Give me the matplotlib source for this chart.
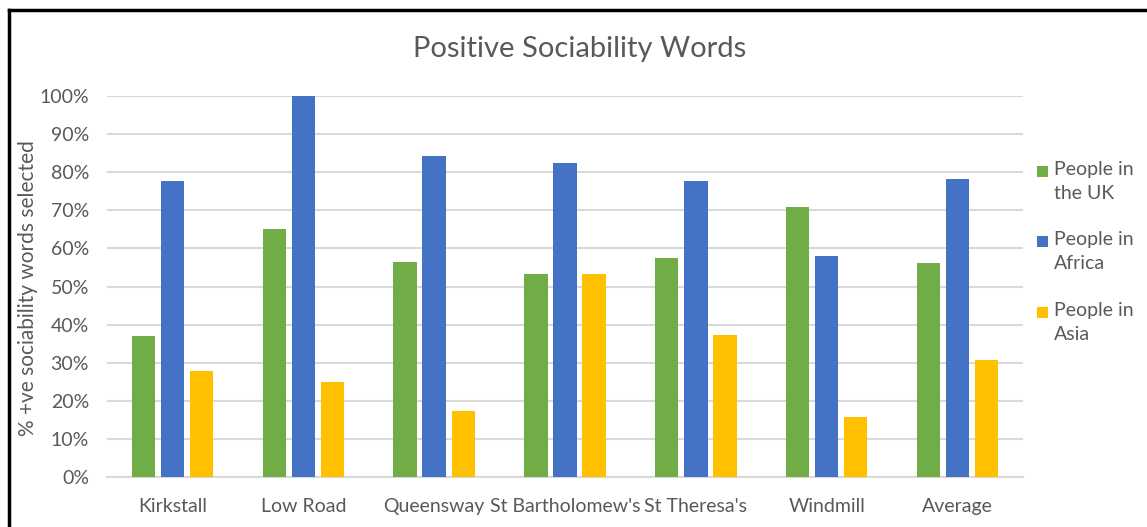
import numpy as np
import matplotlib.pyplot as plt
from matplotlib.lines import Line2D
from matplotlib.patches import Rectangle

# --- Datos ---
sites = ["Kirkstall", "Low Road", "Queensway", "St Bartholomew's", "St Theresa's", "Windmill", "Average"]
uk = [37.0, 65.2, 56.4, 53.2, 57.5, 70.8, 56.1]
africa = [77.6, 100.0, 84.3, 82.3, 77.6, 57.9, 78.1]
asia = [27.8, 24.9, 17.3, 53.2, 37.2, 15.8, 30.8]
series_names = ["People in\nthe UK", "People in\nAfrica", "People in\nAsia"]
y_ticks = [0, 10, 20, 30, 40, 50, 60, 70, 80, 90, 100]

GREEN, BLUE, YELLOW = "#70AD47", "#4472C4", "#FFC000"
TEXT = "#595959"
GRID = "#D9D9D9"
W, H = 1147, 527
FS = 14

plt.rcParams['font.family'] = ['Lato', 'DejaVu Sans']

fig = plt.figure(figsize=(W / 100, H / 100), dpi=100)
ax = fig.add_axes([107 / W, 1 - 477 / H, (1023 - 107) / W, (477 - 96) / H])

x = np.arange(len(sites))
step, w = 0.222, 0.178
for off, vals, col in zip([-step, 0, step], [uk, africa, asia], [GREEN, BLUE, YELLOW]):
    ax.bar(x + off, np.array(vals) / 100, width=w, color=col, zorder=3)

ax.set_xlim(-0.5, len(sites) - 0.5)
ax.set_ylim(0, 1)
ax.set_yticks([t / 100 for t in y_ticks])
ax.set_yticklabels([f"{t}%" for t in y_ticks])
ax.set_xticks(x)
ax.set_xticklabels(sites)
ax.grid(axis='y', color=GRID, linewidth=1.5, zorder=0)
ax.set_axisbelow(True)
for s in ["top", "right", "left"]:
    ax.spines[s].set_visible(False)
ax.spines["bottom"].set_color(GRID)
ax.spines["bottom"].set_linewidth(1.5)
ax.tick_params(length=0, colors=TEXT, labelsize=FS)
ax.tick_params(axis='y', pad=13)
ax.tick_params(axis='x', pad=15)
ax.set_ylabel("% +ve sociability words selected", color=TEXT, fontsize=15)
ax.yaxis.label.set_va('center')
ax.yaxis.set_label_coords((28 - 107) / (1023 - 107), 0.497)

fig.text(580 / W, 1 - 49 / H, "Positive Sociability Words", ha='center', va='center',
         color=TEXT, fontsize=21)

# leyenda dibujada a mano: cuadrado + texto en dos líneas
for i, (name, col) in enumerate(zip(series_names, [GREEN, BLUE, YELLOW])):
    yc = 171 + i * 70.5
    fig.add_artist(Rectangle((1037 / W, 1 - (yc + 5.5) / H), 11 / W, 11 / H, facecolor=col,
                             edgecolor='none', transform=fig.transFigure))
    fig.text(1054 / W, 1 - (yc - 10) / H, name, ha='left', va='top', color=TEXT,
             fontsize=FS, linespacing=1.5)

# marco del gráfico (solo borde superior e izquierdo visibles)
fig.add_artist(Line2D([9 / W, 9 / W], [0, 1 - 10 / H], color='black', linewidth=2.5,
                      transform=fig.transFigure))
fig.add_artist(Line2D([9 / W, 1], [1 - 10 / H, 1 - 10 / H], color='black', linewidth=2.5,
                      transform=fig.transFigure))

fig.savefig("out.png", dpi=100)
